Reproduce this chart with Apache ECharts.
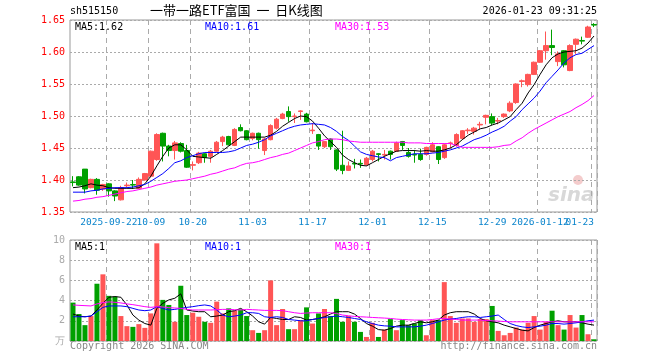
<!DOCTYPE html>
<html><head><meta charset="utf-8">
<script src="https://cdn.jsdelivr.net/npm/echarts@6/dist/echarts.min.js"></script>
<style>html,body{margin:0;padding:0;background:#fff}#c{width:660px;height:360px}</style>
</head><body><div id="c"></div>
<script>
const dates = ['2025-09-12','2025-09-15','2025-09-16','2025-09-17','2025-09-18','2025-09-19',
'2025-09-22','2025-09-23','2025-09-24','2025-09-25','2025-09-26','2025-09-29','2025-09-30',
'2025-10-09','2025-10-10','2025-10-13','2025-10-14','2025-10-15','2025-10-16','2025-10-17',
'2025-10-20','2025-10-21','2025-10-22','2025-10-23','2025-10-24','2025-10-27','2025-10-28','2025-10-29','2025-10-30','2025-10-31',
'2025-11-03','2025-11-04','2025-11-05','2025-11-06','2025-11-07','2025-11-10','2025-11-11','2025-11-12','2025-11-13','2025-11-14',
'2025-11-17','2025-11-18','2025-11-19','2025-11-20','2025-11-21','2025-11-24','2025-11-25','2025-11-26','2025-11-27','2025-11-28',
'2025-12-01','2025-12-02','2025-12-03','2025-12-04','2025-12-05','2025-12-08','2025-12-09','2025-12-10','2025-12-11','2025-12-12',
'2025-12-15','2025-12-16','2025-12-17','2025-12-18','2025-12-19','2025-12-22','2025-12-23','2025-12-24','2025-12-25','2025-12-26',
'2025-12-29','2025-12-30','2025-12-31','2026-01-05','2026-01-06','2026-01-07','2026-01-08','2026-01-09',
'2026-01-12','2026-01-13','2026-01-14','2026-01-15','2026-01-16','2026-01-19','2026-01-20','2026-01-21','2026-01-22','2026-01-23'];

const opens = [1.397,1.405,1.417,1.388,1.401,1.386,1.394,1.383,1.369,1.391,1.393,1.387,1.400,1.406,1.432,1.473,1.453,1.446,1.457,1.446,
1.423,1.427,1.441,1.437,1.445,1.460,1.468,1.454,1.482,1.477,1.465,1.473,1.446,1.463,1.481,1.496,1.507,1.499,1.507,1.503,
1.477,1.471,1.452,1.464,1.447,1.423,1.415,1.426,1.426,1.424,1.432,1.441,1.439,1.445,1.445,1.460,1.443,1.440,1.440,1.440,
1.444,1.452,1.435,1.457,1.454,1.465,1.477,1.476,1.486,1.498,1.499,1.492,1.499,1.508,1.521,1.554,1.549,1.565,1.584,1.602,
1.610,1.585,1.602,1.571,1.612,1.618,1.623,1.643];
const closes = [1.396,1.392,1.386,1.401,1.384,1.393,1.383,1.375,1.388,1.392,1.392,1.401,1.410,1.445,1.471,1.453,1.446,1.458,1.445,1.420,
1.424,1.442,1.435,1.445,1.459,1.467,1.455,1.479,1.477,1.463,1.473,1.463,1.464,1.485,1.495,1.503,1.499,1.500,1.508,1.491,
1.478,1.453,1.460,1.452,1.417,1.415,1.422,1.425,1.425,1.434,1.445,1.440,1.440,1.440,1.458,1.454,1.437,1.439,1.432,1.451,
1.455,1.432,1.455,1.458,1.471,1.477,1.478,1.481,1.487,1.501,1.489,1.493,1.503,1.520,1.550,1.555,1.565,1.584,1.602,1.610,
1.607,1.597,1.580,1.610,1.620,1.617,1.639,1.642];
const lows = [1.390,1.391,1.379,1.387,1.377,1.383,1.374,1.367,1.368,1.388,1.386,1.386,1.399,1.404,1.430,1.429,1.437,1.432,1.443,1.419,
1.415,1.425,1.427,1.427,1.444,1.453,1.454,1.453,1.476,1.462,1.462,1.449,1.439,1.462,1.479,1.495,1.491,1.489,1.494,1.490,
1.472,1.447,1.450,1.447,1.414,1.409,1.414,1.418,1.419,1.422,1.429,1.429,1.432,1.432,1.444,1.447,1.435,1.427,1.430,1.438,
1.443,1.425,1.433,1.450,1.452,1.463,1.472,1.471,1.479,1.487,1.486,1.487,1.497,1.506,1.519,1.545,1.546,1.564,1.583,1.588,
1.595,1.578,1.576,1.570,1.597,1.612,1.622,1.639];
const highs = [1.406,1.406,1.417,1.402,1.403,1.394,1.395,1.384,1.391,1.396,1.400,1.404,1.411,1.446,1.473,1.474,1.455,1.461,1.459,1.455,
1.429,1.444,1.442,1.447,1.461,1.469,1.469,1.481,1.487,1.478,1.474,1.474,1.466,1.487,1.497,1.505,1.515,1.504,1.509,1.505,
1.489,1.472,1.461,1.465,1.448,1.477,1.429,1.433,1.432,1.436,1.447,1.442,1.447,1.446,1.460,1.461,1.450,1.447,1.449,1.452,
1.459,1.453,1.457,1.460,1.473,1.478,1.481,1.483,1.491,1.502,1.504,1.497,1.504,1.523,1.551,1.557,1.566,1.585,1.603,1.632,
1.635,1.601,1.603,1.612,1.621,1.624,1.641,1.645];

const ma5 = [1.388,1.389,1.391,1.394,1.392,1.391,1.388,1.387,1.387,1.387,1.387,1.388,1.394,1.406,1.422,1.437,1.450,1.455,1.455,1.447,
1.437,1.436,1.435,1.434,1.440,1.446,1.453,1.460,1.467,1.467,1.467,1.467,1.467,1.470,1.476,1.484,1.490,1.496,1.500,1.499,
1.492,1.481,1.469,1.460,1.451,1.439,1.432,1.427,1.423,1.422,1.427,1.432,1.437,1.441,1.445,1.446,1.446,1.446,1.445,1.446,
1.445,1.445,1.447,1.450,1.455,1.463,1.470,1.475,1.480,1.482,1.486,1.489,1.494,1.499,1.510,1.520,1.536,1.549,1.565,1.580,
1.591,1.597,1.600,1.601,1.602,1.606,1.614,1.625];
const ma10 = [1.381,1.381,1.381,1.383,1.384,1.386,1.387,1.388,1.388,1.388,1.389,1.391,1.393,1.398,1.404,1.410,1.418,1.427,1.430,1.435,
1.438,1.441,1.443,1.443,1.443,1.443,1.444,1.446,1.450,1.454,1.456,1.459,1.463,1.469,1.473,1.477,1.481,1.484,1.486,1.487,
1.488,1.487,1.486,1.482,1.476,1.468,1.462,1.453,1.444,1.440,1.438,1.436,1.435,1.430,1.435,1.437,1.439,1.441,1.441,1.441,
1.442,1.443,1.445,1.447,1.450,1.453,1.458,1.463,1.466,1.470,1.475,1.479,1.484,1.492,1.499,1.510,1.519,1.528,1.539,1.552,
1.562,1.572,1.583,1.591,1.596,1.598,1.604,1.610];
const ma30 = [1.367,1.368,1.370,1.371,1.373,1.374,1.376,1.378,1.380,1.382,1.383,1.385,1.387,1.389,1.392,1.394,1.396,1.398,1.399,1.400,
1.402,1.404,1.406,1.409,1.411,1.414,1.417,1.419,1.423,1.426,1.427,1.429,1.432,1.435,1.437,1.440,1.442,1.446,1.450,1.454,
1.458,1.460,1.463,1.464,1.464,1.463,1.461,1.460,1.459,1.459,1.459,1.459,1.459,1.459,1.459,1.459,1.458,1.458,1.458,1.457,
1.457,1.457,1.457,1.457,1.454,1.451,1.451,1.451,1.451,1.451,1.451,1.452,1.454,1.455,1.461,1.466,1.473,1.479,1.484,1.489,
1.494,1.499,1.503,1.507,1.513,1.518,1.524,1.532];

const volumes = [3.8,2.67,1.57,2.47,5.67,6.6,4.47,4.4,2.47,1.47,1.4,1.67,1.3,2.73,9.67,4.07,3.57,1.9,5.47,2.57,
2.8,2.4,1.9,1.8,3.9,2.73,3.23,3.0,3.13,2.47,1.07,0.8,1.07,6.0,1.57,3.17,1.17,1.17,2.07,3.33,
1.73,2.73,3.17,2.47,4.17,1.9,2.47,1.9,0.9,0.4,1.8,0.4,1.13,2.17,1.07,2.07,1.57,1.73,2.07,0.57,
2.07,2.07,5.83,2.47,1.8,2.23,2.23,1.9,2.17,2.17,3.47,1.0,0.57,0.8,1.33,1.13,1.8,2.47,1.13,1.9,
3.0,1.57,1.13,2.57,1.33,2.57,0.67,0.17];
const volMa5 = [2.67,2.47,2.4,2.47,3.07,3.73,4.33,4.4,4.33,3.57,2.57,2.07,1.73,1.57,3.23,3.73,4.07,4.23,4.67,3.07,
2.97,2.9,2.9,2.4,2.47,2.57,2.9,3.0,3.23,2.9,2.47,1.9,1.67,2.33,2.23,2.13,2.13,2.4,2.33,2.07,
2.13,2.23,2.4,2.67,2.9,2.9,2.9,2.67,2.23,1.73,1.47,1.13,1.07,1.23,1.47,1.57,1.57,1.73,1.9,1.8,
1.9,2.07,2.57,2.8,2.9,2.9,2.9,2.67,2.23,2.0,1.9,1.8,1.57,1.4,1.23,1.07,1.0,1.33,1.57,1.73,
1.9,2.0,1.9,1.9,1.9,1.8,1.67,1.57];
const volMa10 = [2.4,2.4,2.4,2.47,2.9,3.33,3.47,3.47,3.47,3.4,3.23,3.07,3.0,3.07,3.4,3.23,3.07,3.13,3.23,3.33,
3.4,3.5,3.57,3.47,3.07,2.57,2.4,2.47,2.57,2.8,2.8,2.73,2.4,2.33,2.4,2.33,2.13,2.07,2.0,2.0,
2.13,2.23,2.33,2.4,2.47,2.4,2.33,2.23,2.13,1.9,1.73,1.57,1.5,1.47,1.4,1.4,1.4,1.4,1.47,1.57,
1.73,1.9,2.07,2.17,2.23,2.33,2.4,2.4,2.33,2.4,2.47,2.57,2.13,1.73,1.53,1.4,1.33,1.4,1.47,1.57,
1.73,1.73,1.67,1.73,1.8,1.9,2.0,2.07];
const volMa30 = [3.57,3.53,3.5,3.47,3.67,3.8,3.87,3.83,3.77,3.67,3.6,3.5,3.4,3.33,3.4,3.37,3.3,3.27,3.23,3.13,
3.07,3.07,3.07,3.07,3.1,3.13,3.13,3.1,3.07,3.13,3.1,3.07,3.03,3.03,3.03,3.0,2.9,2.8,2.73,2.77,
2.8,2.8,2.8,2.8,2.73,2.57,2.5,2.43,2.4,2.37,2.33,2.3,2.27,2.23,2.17,2.13,2.1,2.07,2.07,2.07,
2.13,2.2,2.23,2.17,2.13,2.07,2.07,2.07,2.07,2.03,2.0,1.97,1.93,1.9,1.9,1.9,1.9,1.9,1.9,1.9,
1.9,1.9,1.9,1.9,1.9,1.9,1.9,1.9];

const dateTickIndex = [6,13,20,30,40,50,60,70,78,87];
const dateTickText = ['2025-09-22','10-09','10-20','11-03','11-17','12-01','12-15','12-29','2026-01-12','01-23'];
const priceMin = 1.35, priceMax = 1.65, priceStep = 0.05;
const volMin = 0, volMax = 10, volStep = 2;
const maLabels = ['MA5:1.62','MA10:1.61','MA30:1.53'];
const volMaLabels = ['MA5:1','MA10:1','MA30:1'];
const maColors = ['#000000','#0000ff','#ff00ff'];

const UP = '#ff5555', DOWN = '#00a000';
const MONO = 'DejaVu Sans Mono';
const isUp = i => closes[i] >= opens[i];

// date labels alternate between two label axes so that touching labels are both kept
const labelSetA = dateTickIndex.filter((d,k)=>k%2===0);
const labelSetB = dateTickIndex.filter((d,k)=>k%2===1);

const chart = echarts.init(document.getElementById('c'), null, {renderer:'canvas'});
const dateLabel = (set, alignMax) => ({
  show:true, interval:(i)=>set.includes(i), hideOverlap:false,
  showMinLabel:true, showMaxLabel:true, alignMaxLabel: alignMax ? 'right' : undefined,
  formatter:(v,i)=>dateTickText[dateTickIndex.indexOf(i)],
  color:'#0a84cc', fontFamily:MONO, fontSize:9.5, margin:6
});
const xAxisOf = (gi, label, split) => ({
  type:'category', data:dates, gridIndex:gi, boundaryGap:true, position:'bottom',
  axisLine:{show:false}, axisTick:{show:false},
  axisLabel: label || {show:false},
  splitLine: split ? {show:true, interval:(i)=>dateTickIndex.includes(i), lineStyle:{color:'#aaaaaa', type:[5,4], width:1}} : {show:false}
});
const lineSeries = (data, color, xi, yi) => ({
  type:'line', data, xAxisIndex:xi, yAxisIndex:yi, symbol:'none', silent:true,
  lineStyle:{color, width:1}, z:5, animation:false
});
const labelText = (txt, x, y, color) => ({type:'text', left:x, top:y, style:{text:txt, fill:color, font:'10px "'+MONO+'"'}, z:100});

chart.setOption({
  animation:false,
  backgroundColor:'#ffffff',
  grid:[
    {left:70, right:63, top:20, height:192, show:true, borderColor:'#999999', borderWidth:1, backgroundColor:'transparent'},
    {left:70, right:63, top:240, height:101, show:true, borderColor:'#999999', borderWidth:1, backgroundColor:'transparent'},
    {left:70, right:63, top:20, height:192, show:false}
  ],
  xAxis:[
    xAxisOf(0, dateLabel(labelSetA, false), true),
    xAxisOf(1, null, true),
    xAxisOf(2, dateLabel(labelSetB, true), false)
  ],
  yAxis:[
    {type:'value', gridIndex:0, min:priceMin, max:priceMax, interval:priceStep, scale:true,
     axisLine:{show:false}, axisTick:{show:false},
     axisLabel:{color:'#ff0000', fontFamily:MONO, fontSize:10, margin:5, formatter:v=>v.toFixed(2)},
     splitLine:{show:true, lineStyle:{color:'#aaaaaa', type:[2,2], width:1}}},
    {type:'value', gridIndex:1, min:volMin, max:volMax, interval:volStep,
     axisLine:{show:false}, axisTick:{show:false},
     axisLabel:{color:'#aaaaaa', fontFamily:MONO, fontSize:10, margin:5, formatter:v=> v===0 ? '万' : String(v)},
     splitLine:{show:true, lineStyle:{color:'#aaaaaa', type:[2,2], width:1}}},
    {type:'value', gridIndex:2, min:priceMin, max:priceMax, show:false, splitLine:{show:false}}
  ],
  series:[
    {type:'candlestick', xAxisIndex:0, yAxisIndex:0, barWidth:5, silent:true,
     data: dates.map((d,i)=>[opens[i], closes[i], lows[i], highs[i]]),
     itemStyle:{color:UP, color0:DOWN, borderColor:UP, borderColor0:DOWN, borderWidth:1}, z:3},
    lineSeries(ma5, maColors[0], 0, 0),
    lineSeries(ma10, maColors[1], 0, 0),
    lineSeries(ma30, maColors[2], 0, 0),
    {type:'bar', xAxisIndex:1, yAxisIndex:1, barWidth:5, silent:true,
     data: volumes.map((v,i)=>({value:v, itemStyle:{color: isUp(i) ? UP : DOWN}})), z:3},
    lineSeries(volMa5, maColors[0], 1, 1),
    lineSeries(volMa10, maColors[1], 1, 1),
    lineSeries(volMa30, maColors[2], 1, 1)
  ],
  graphic:[
    {type:'text', left:70, top:6, style:{text:'sh515150', fill:'#000', font:'10px "'+MONO+'"'}},
    {type:'text', left:150, top:4, style:{text:'一带一路ETF富国  一  日K线图', fill:'#000', font:'13px "Noto Sans CJK SC"'}},
    {type:'text', right:63, top:6, style:{text:'2026-01-23 09:31:25', fill:'#000', font:'10px "'+MONO+'"'}},
    labelText(maLabels[0], 75, 22, maColors[0]),
    labelText(maLabels[1], 205, 22, maColors[1]),
    labelText(maLabels[2], 335, 22, maColors[2]),
    labelText(volMaLabels[0], 75, 242, maColors[0]),
    labelText(volMaLabels[1], 205, 242, maColors[1]),
    labelText(volMaLabels[2], 335, 242, maColors[2]),
    {type:'text', left:70, top:341, style:{text:'Copyright 2026 SINA.COM', fill:'#888', font:'10px "'+MONO+'"'}},
    {type:'text', right:63, top:341, style:{text:'http://finance.sina.com.cn', fill:'#888', font:'10px "'+MONO+'"'}},
    {type:'text', left:548, top:186, style:{text:'sina', fill:'#d8d8d8', font:'italic bold 20px "DejaVu Sans"'}, z:0},
    {type:'circle', shape:{cx:578, cy:180, r:5}, style:{fill:'#f4cccc'}, z:0}
  ]
});
</script></body></html>
